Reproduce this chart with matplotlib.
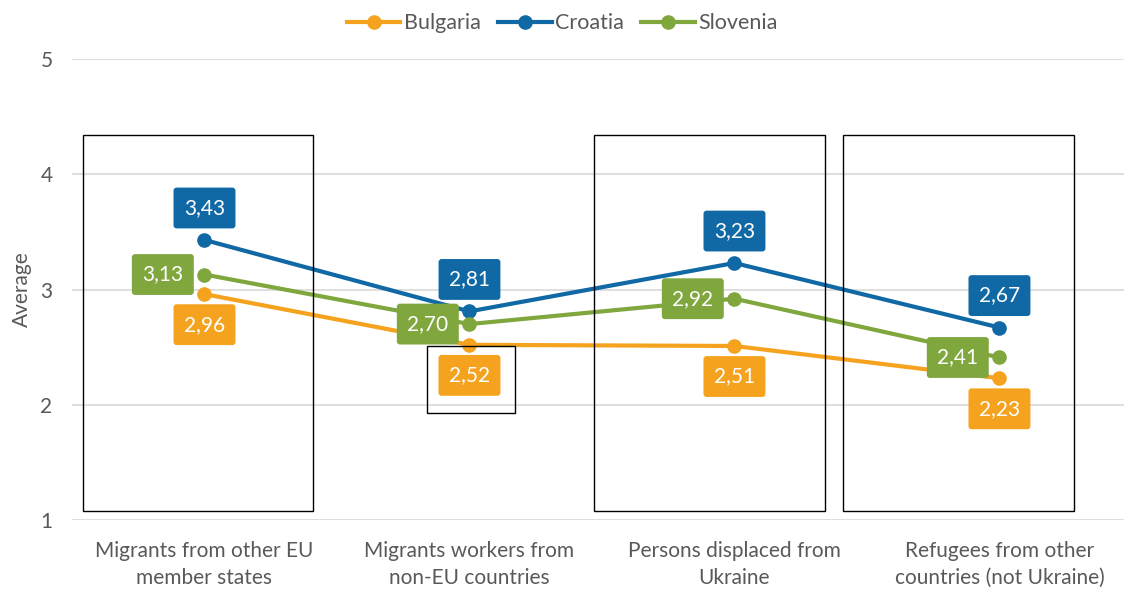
import matplotlib
matplotlib.use("Agg")
import matplotlib.pyplot as plt
from matplotlib.patches import Rectangle

plt.rcParams['font.family'] = ['Lato', 'DejaVu Sans']

categories = ["Migrants from other EU\nmember states",
              "Migrants workers from\nnon-EU countries",
              "Persons displaced from\nUkraine",
              "Refugees from other\ncountries (not Ukraine)"]
bulgaria = [2.96, 2.52, 2.51, 2.23]
croatia = [3.43, 2.81, 3.23, 2.67]
slovenia = [3.13, 2.70, 2.92, 2.41]

series = [("Bulgaria", bulgaria, "#F5A31E", (0, -22)),
          ("Croatia", croatia, "#1069A5", (0, 23)),
          ("Slovenia", slovenia, "#80A63E", (-30, 0))]

# highlight boxes (x0, x1, y0, y1) in data units
boxes = [(-0.46, 0.41, 1.08, 4.34),
         (1 - 0.16, 1 + 0.17, 1.93, 2.51),
         (2 - 0.53, 2 + 0.34, 1.08, 4.34),
         (3 - 0.59, 3 + 0.28, 1.08, 4.34)]

grey = "#595959"

fig = plt.figure(figsize=(11.24, 5.96), dpi=100)
ax = fig.add_axes([72 / 1124, 1 - 520 / 596, 1 - 72 / 1124, (520 - 59) / 596])

x = list(range(len(categories)))
for name, vals, col, off in series:
    ax.plot(x, vals, color=col, lw=3, marker="o", ms=9.5, label=name, zorder=3)
    for xi, v in zip(x, vals):
        ax.annotate(f"{v:.2f}".replace(".", ","), (xi, v), xytext=off,
                    textcoords="offset points", ha="center", va="center",
                    color="white", fontsize=15, zorder=5,
                    bbox=dict(boxstyle="round,pad=0.5,rounding_size=0.15",
                              fc=col, ec="none"))

for x0, x1, y0, y1 in boxes:
    ax.add_patch(Rectangle((x0, y0), x1 - x0, y1 - y0, fill=False,
                           ec="black", lw=1, zorder=4))

ax.set_xlim(-0.5, 3.47)
ax.set_ylim(1, 5)
ax.set_yticks([1, 2, 3, 4, 5])
ax.set_xticks(x)
ax.set_xticklabels(categories, fontsize=15, color=grey, linespacing=1.45)
ax.tick_params(axis="y", labelsize=15, labelcolor=grey, length=0, pad=14)
ax.tick_params(axis="x", length=0, pad=15)
ax.grid(axis="y", color="#D9D9D9", lw=1.2)
ax.set_axisbelow(True)
for s in ax.spines.values():
    s.set_visible(False)
ax.set_ylabel("Average", fontsize=15, color=grey, labelpad=6)

fig.legend(loc="upper center", bbox_to_anchor=(0.5, 1.01), ncol=3, frameon=False,
           fontsize=15.5, labelcolor=grey, handlelength=2.5, columnspacing=0.8,
           handletextpad=0.15)

fig.savefig("out.png", dpi=100)
